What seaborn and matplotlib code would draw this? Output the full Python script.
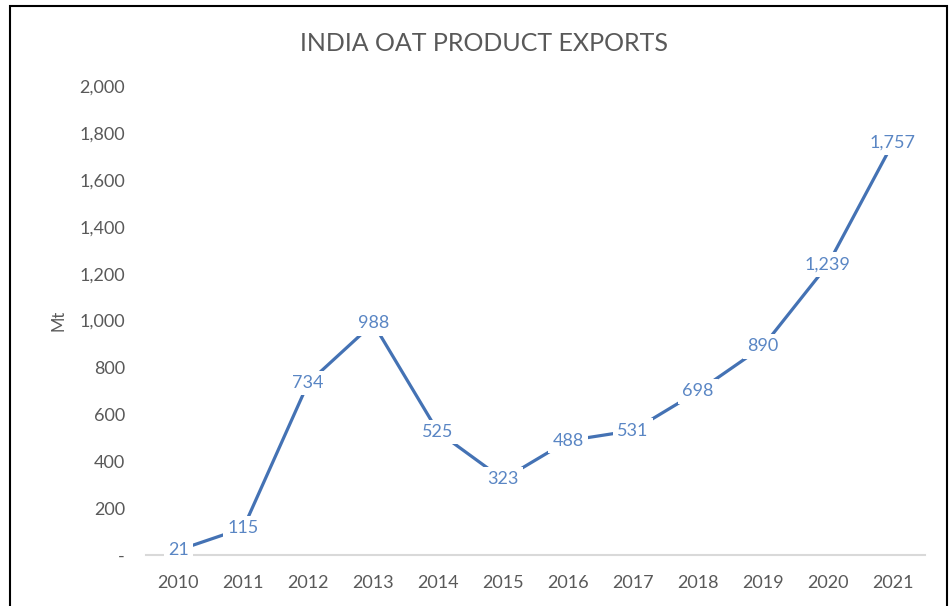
import pandas as pd
import matplotlib.pyplot as plt
import seaborn as sns
from matplotlib.patches import Rectangle

# Data
years = ['2010', '2011', '2012', '2013', '2014', '2015', '2016', '2017', '2018', '2019', '2020', '2021']
exports = [21, 115, 734, 988, 525, 323, 488, 531, 698, 890, 1239, 1757]
y_ticks = [0, 200, 400, 600, 800, 1000, 1200, 1400, 1600, 1800, 2000]

df = pd.DataFrame({'Year': years, 'Exports': exports})
df['pos'] = range(len(df))

sns.set_style('white')
plt.rcParams['font.family'] = ['Lato', 'DejaVu Sans']

line_color = '#4472b4'
label_color = '#5a86c4'
text_gray = '#595959'

fig = plt.figure(figsize=(9.53, 6.06), dpi=100)
ax = fig.add_axes([0.153, 0.084, 0.818, 0.774])

sns.lineplot(data=df, x='pos', y='Exports', ax=ax, color=line_color, linewidth=2.3)

# Data labels centered on the points, white box hides the line underneath
for i, v in enumerate(exports):
    ax.text(i, v, f'{v:,}', ha='center', va='center', fontsize=13, color=label_color,
            bbox=dict(facecolor='white', edgecolor='none', pad=3), zorder=5)

ax.set_xlim(-0.5, len(years) - 0.5)
ax.set_ylim(0, 2000)
ax.set_xticks(df['pos'])
ax.set_xticklabels(years)
ax.set_yticks(y_ticks)
ax.set_yticklabels(['-'] + [f'{t:,}' for t in y_ticks[1:]])
ax.tick_params(axis='both', labelsize=13, labelcolor=text_gray, length=0)
ax.tick_params(axis='x', pad=14)
ax.tick_params(axis='y', pad=15)
ax.set_xlabel('')
ax.set_ylabel('Mt', fontsize=12, color=text_gray, labelpad=9)

for side in ['top', 'right', 'left']:
    ax.spines[side].set_visible(False)
ax.spines['bottom'].set_color('#d9d9d9')
ax.spines['bottom'].set_linewidth(1.5)

fig.text(0.508, 0.928, 'INDIA OAT PRODUCT EXPORTS', ha='center', va='center',
         fontsize=18, color=text_gray)

# Outer chart border (bottom edge is cut off in the reference)
fig.patches.append(Rectangle((0.011, -0.05), 0.983, 1.04, transform=fig.transFigure,
                             fill=False, edgecolor='black', linewidth=1.5))

fig.savefig('out.png', dpi=100)
